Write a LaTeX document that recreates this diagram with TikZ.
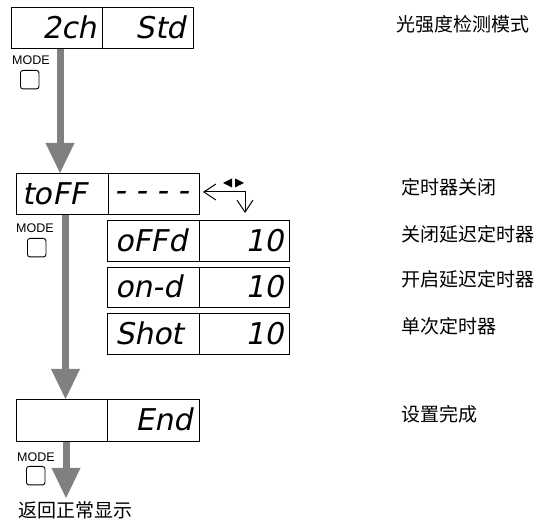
\documentclass[tikz,border=0pt]{standalone}
\usepackage{fontspec}
\setmainfont{Liberation Sans}
\newfontfamily\cjk{Noto Sans CJK SC}
\newfontfamily\segfont{DejaVu Sans}[FakeSlant=0.2]
\newfontfamily\segdash{DejaVu Sans}[FakeSlant=0.2,LetterSpace=30]
\usetikzlibrary{arrows.meta}
\definecolor{arrowgray}{RGB}{128,128,128}
\tikzset{
  cell/.style={draw=black, line width=1pt, rectangle, inner sep=0pt, anchor=north west},
  seg/.style={inner sep=0pt, font=\segfont\fontsize{30}{30}\selectfont},
  segd/.style={inner sep=0pt, font=\segdash\fontsize{32}{32}\selectfont},
  modelabel/.style={inner sep=0pt, anchor=base west, font=\fontsize{12.5}{12.5}\selectfont},
  button/.style={draw=black, line width=0.9pt, rounded corners=2.5pt, inner sep=0pt,
    minimum width=18.5pt, minimum height=18.5pt, anchor=north west},
  flow/.style={draw=arrowgray, fill=arrowgray, line width=7pt,
    -{Triangle[width=29pt,length=30pt,line width=0pt]}},
  note/.style={inner sep=0pt, anchor=base west, font=\cjk\fontsize{19}{19}\selectfont},
  thinline/.style={draw=black, line width=1pt},
}
\begin{document}
\begin{tikzpicture}[x=1pt,y=-1pt]
\useasboundingbox (0,0) rectangle (536,521);

% Box 1
\node[cell, minimum width=91pt, minimum height=41pt] (b1l) at (11,7) {};
\node[cell, minimum width=91pt, minimum height=41pt] (b1r) at (102,7) {};
\node[seg, anchor=base east] (t2ch) at (97,39) {2ch};
\node[seg, anchor=base east] (tstd) at (186,39) {Std};

% Box 2
\node[cell, minimum width=92pt, minimum height=41pt] (b2l) at (16,173) {};
\node[cell, minimum width=91pt, minimum height=41pt] (b2r) at (108,173) {};
\node[seg, anchor=base west] (ttoff) at (22,205) {toFF};
\node[segd, anchor=base] (tdash) at (152,202) {----};

% Sub boxes
\node[cell, minimum width=92pt, minimum height=41pt] (s1l) at (107,220) {};
\node[cell, minimum width=90pt, minimum height=41pt] (s1r) at (199,220) {};
\node[cell, minimum width=92pt, minimum height=40pt] (s2l) at (107,267) {};
\node[cell, minimum width=90pt, minimum height=40pt] (s2r) at (199,267) {};
\node[cell, minimum width=92pt, minimum height=41pt] (s3l) at (107,313) {};
\node[cell, minimum width=90pt, minimum height=41pt] (s3r) at (199,313) {};
\node[seg, anchor=base west] (toffd) at (115,251.5) {oFFd};
\node[seg, anchor=base east] (tv1) at (284,251.5) {10};
\node[seg, anchor=base west] (tond) at (115,298) {on-d};
\node[seg, anchor=base east] (tv2) at (284,298) {10};
\node[seg, anchor=base west] (tshot) at (115,344.5) {Shot};
\node[seg, anchor=base east] (tv3) at (284,344.5) {10};

% End box
\node[cell, minimum width=91pt, minimum height=42pt] (b3l) at (16,399) {};
\node[cell, minimum width=92pt, minimum height=42pt] (b3r) at (107,399) {};
\node[seg, anchor=base east] (tend) at (193,431) {End};

% MODE buttons
\node[modelabel] (m1) at (12,65) {MODE};
\node[button] (k1) at (20,70) {};
\node[modelabel] (m2) at (16,233) {MODE};
\node[button] (k2) at (27,238) {};
\node[modelabel] (m3) at (17,461) {MODE};
\node[button] (k3) at (26,466) {};

% Flow arrows
\coordinate (x1) at (60,0);
\coordinate (x2) at (65.5,0);
\coordinate (x3) at (66,0);
\coordinate (fin) at (66,498);
\draw[flow] (x1 |- b1l.south) -- (x1 |- b2l.north);
\draw[flow] (x2 |- b2l.south) -- (x2 |- b3l.north);
\draw[flow] (x3 |- b3l.south) -- (fin);

% selection icon
\coordinate (icl) at (203,192);
\coordinate (icc) at (245,192);
\coordinate (icd) at (245,213);
\draw[thinline, {Straight Barb[length=12pt,width=16pt]}-{Straight Barb[length=12pt,width=16pt]}]
  (icl) -- (icc) -- (icd);
\fill (223,183) -- (232,178.5) -- (232,187.5) -- cycle;
\fill (244,183) -- (235,178.5) -- (235,187.5) -- cycle;

% Notes
\node[note] (n1) at (396,31.5) {光强度检测模式};
\node[note] (n2) at (401,194.5) {定时器关闭};
\node[note] (n3) at (401,241.5) {关闭延迟定时器};
\node[note] (n4) at (401,286.5) {开启延迟定时器};
\node[note] (n5) at (401,333.5) {单次定时器};
\node[note] (n6) at (401,421.5) {设置完成};
\node[note] (n7) at (18,518) {返回正常显示};
\end{tikzpicture}
\end{document}
